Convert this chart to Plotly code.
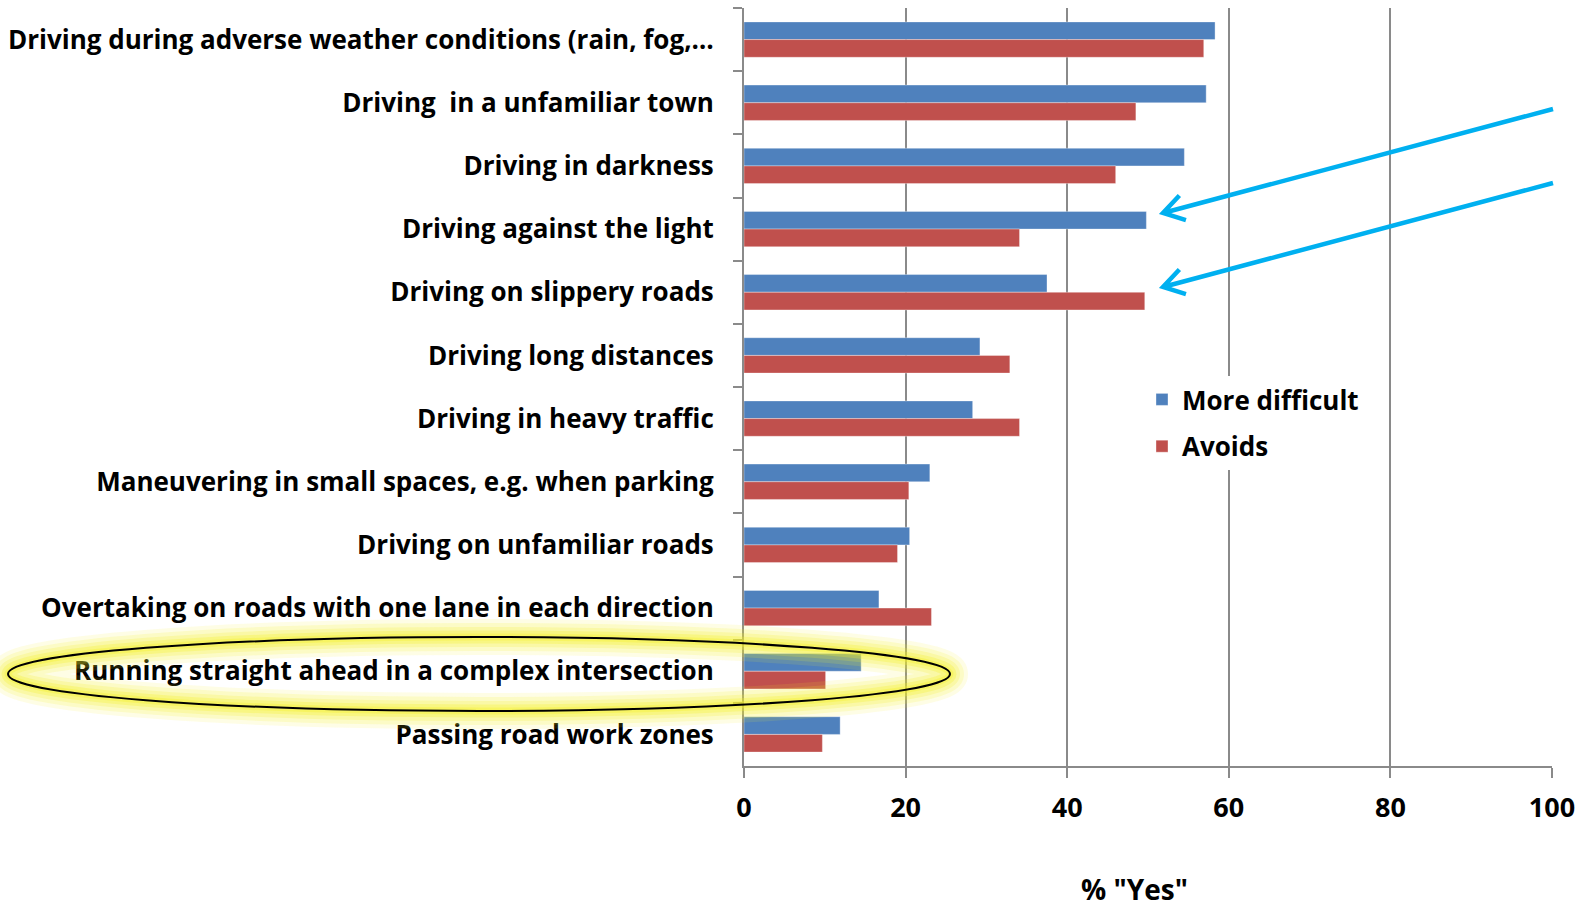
import math
import plotly.graph_objects as go

# ---- data (top to bottom as displayed) ----
categories = [
    "Driving during adverse weather conditions (rain, fog,…",
    "Driving  in a unfamiliar town",
    "Driving in darkness",
    "Driving against the light",
    "Driving on slippery roads",
    "Driving long distances",
    "Driving in heavy traffic",
    "Maneuvering in small spaces, e.g. when parking",
    "Driving on unfamiliar roads",
    "Overtaking on roads with one lane in each direction",
    "Running straight ahead in a complex intersection",
    "Passing road work zones",
]
more_difficult = [58.3, 57.2, 54.5, 49.8, 37.5, 29.2, 28.3, 23.0, 20.5, 16.7, 14.5, 11.9]
avoids = [56.9, 48.5, 46.0, 34.1, 49.6, 32.9, 34.1, 20.4, 19.0, 23.2, 10.1, 9.7]
x_ticks = [0, 20, 40, 60, 80, 100]
series_names = ["More difficult", "Avoids"]
series_colors = ["#4F81BD", "#C0504D"]

FONT = "Open Sans"
W, H = 1585, 908
ML, MR, MT, MB = 744, 33, 8, 142
PW, PH = W - ML - MR, H - MT - MB


def px(x):
    return (x - ML) / PW


def py(y):
    return (H - MB - y) / PH


fig = go.Figure()
for name, vals, col in zip(series_names, [more_difficult, avoids], series_colors):
    fig.add_trace(go.Bar(
        y=categories, x=vals, name=name, orientation="h",
        marker=dict(color=col, line=dict(color="rgba(255,255,255,0.35)", width=1)),
        legendgroup=name,
    ))

shapes = []
# glowing ellipse around "Running straight ahead..."
ex0, ex1, ey0, ey1 = 8, 950, 637, 711
for w, a in [(36, 0.12), (28, 0.16), (20, 0.2), (13, 0.28), (7, 0.35)]:
    shapes.append(dict(type="circle", xref="paper", yref="paper",
                       x0=px(ex0), x1=px(ex1), y0=py(ey1), y1=py(ey0),
                       line=dict(color=f"rgba(245,240,40,{a})", width=w), layer="above"))
shapes.append(dict(type="circle", xref="paper", yref="paper",
                   x0=px(ex0), x1=px(ex1), y0=py(ey1), y1=py(ey0),
                   line=dict(color="black", width=2), layer="above"))

# cyan arrows
arrows = [((1553, 109), (1163, 213)), ((1553, 183), (1163, 287))]
for (sx, sy), (tx, ty) in arrows:
    dx, dy = sx - tx, sy - ty
    L = math.hypot(dx, dy)
    ux, uy = dx / L, dy / L
    arm = 24
    ang = math.radians(32)
    pts = []
    for s in (1, -1):
        c, si = math.cos(s * ang), math.sin(s * ang)
        pts.append((tx + arm * (ux * c - uy * si), ty + arm * (ux * si + uy * c)))
    path = (f"M {px(sx)},{py(sy)} L {px(tx)},{py(ty)} "
            f"M {px(pts[0][0])},{py(pts[0][1])} L {px(tx)},{py(ty)} L {px(pts[1][0])},{py(pts[1][1])}")
    shapes.append(dict(type="path", xref="paper", yref="paper", path=path,
                       line=dict(color="#00B0F0", width=4.5), layer="above"))

fig.update_layout(
    width=W, height=H,
    margin=dict(l=ML, r=MR, t=MT, b=MB, autoexpand=False),
    paper_bgcolor="white", plot_bgcolor="white",
    barmode="group", bargap=0.44, bargroupgap=0,
    font=dict(family=FONT, size=26, color="black"),
    xaxis=dict(
        range=[0, 100], tickvals=x_ticks, ticktext=[str(v) for v in x_ticks],
        showgrid=True, gridcolor="#8A8A8A", gridwidth=2,
        showline=True, linecolor="#8A8A8A", linewidth=2,
        ticks="outside", ticklen=10, tickcolor="#8A8A8A", tickwidth=2,
        tickfont=dict(family=FONT, size=27, color="black", weight="bold"),
        ticklabelstandoff=7,
        zeroline=False, fixedrange=True,
    ),
    yaxis=dict(
        autorange="reversed", type="category",
        showline=True, linecolor="#8A8A8A", linewidth=2,
        ticks="outside", ticklen=9, tickcolor="#8A8A8A", tickwidth=2,
        tickson="boundaries", showgrid=False,
        tickfont=dict(family=FONT, size=26, color="black", weight="bold"),
        ticklabelstandoff=23,
    ),
    legend=dict(
        x=px(1142), y=py(376), xanchor="left", yanchor="top",
        bgcolor="white", borderwidth=0,
        font=dict(family=FONT, size=26, color="black", weight="bold"),
        traceorder="grouped", tracegroupgap=10,
    ),
    shapes=shapes,
    annotations=[dict(
        text='% "Yes"', xref="paper", yref="paper",
        x=px(1134), y=py(889), xanchor="center", yanchor="middle",
        showarrow=False, font=dict(family=FONT, size=28, color="black", weight="bold"),
    )],
)

fig.write_html("out.html", config={"displayModeBar": False},
               post_script="document.body.style.margin='0';")
